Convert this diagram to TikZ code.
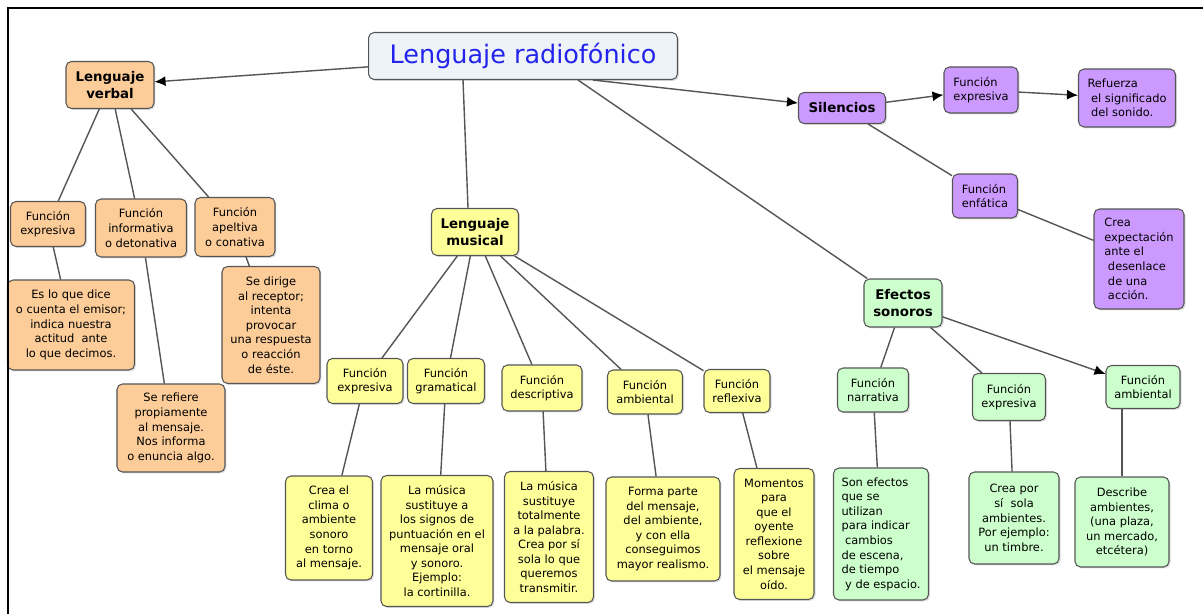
\documentclass[tikz,border=0pt]{standalone}
\usepackage{fontspec}
\setmainfont{DejaVu Sans}
\usetikzlibrary{arrows.meta,shadows}

\definecolor{verbalc}{RGB}{252,204,153}
\definecolor{musicalc}{RGB}{255,255,153}
\definecolor{silencioc}{RGB}{204,153,255}
\definecolor{efectoc}{RGB}{204,255,204}
\definecolor{titlec}{RGB}{238,243,248}
\definecolor{titletext}{RGB}{35,35,235}
\definecolor{edgec}{RGB}{85,85,85}

\tikzset{
  concept/.style={draw=edgec, line width=0.6pt, rounded corners=1.1mm, align=center, inner sep=1pt,
    font=\fontsize{6.5}{8.3}\selectfont,
    drop shadow={opacity=0.25, shadow xshift=0.3mm, shadow yshift=-0.3mm}},
  head/.style={concept, font=\fontsize{7.6}{9.4}\selectfont\bfseries},
  sz/.style 2 args={minimum width=#1*0.2mm, minimum height=#2*0.2mm},
  link/.style={draw=edgec, line width=0.8pt},
  arrowlink/.style={link, -{Latex[length=2.2mm,width=2mm,color=black]}}
}

\begin{document}
\begin{tikzpicture}[x=0.02cm, y=-0.02cm]
  \useasboundingbox (0,0) rectangle (1203,614);

  % title
  \node [concept, sz={309}{47}, fill=titlec, text=titletext, font=\fontsize{14.5}{17}\selectfont] (T) at (523,56) {Lenguaje radiofónico};

  % lenguaje verbal
  \node [head, sz={88}{47}, fill=verbalc] (LV) at (110,85) {Lenguaje\\verbal};
  \node [concept, sz={75}{45}, fill=verbalc] (LV1) at (48,224) {Función\\expresiva};
  \node [concept, sz={91}{58}, fill=verbalc] (LV2) at (141,228) {Función\\informativa\\o detonativa};
  \node [concept, sz={80}{59}, fill=verbalc] (LV3) at (235,227) {Función\\apeltiva\\o conativa};
  \node [concept, sz={127}{90}, fill=verbalc] (LV1a) at (71,325) {Es lo que dice\\o cuenta el emisor;\\indica nuestra\\actitud\ \ ante\\lo que decimos.};
  \node [concept, sz={108}{88}, fill=verbalc] (LV2a) at (171,428) {Se refiere\\propiamente\\al mensaje.\\Nos informa\\o enuncia algo.};
  \node [concept, sz={98}{117}, fill=verbalc] (LV3a) at (271,325) {Se dirige\\al receptor;\\intenta\\provocar\\una respuesta\\o reacción\\de éste.};

  % lenguaje musical
  \node [head, sz={87}{47}, fill=musicalc] (LM) at (475,232) {Lenguaje\\musical};
  \node [concept, sz={76}{45}, fill=musicalc] (ME) at (365,381) {Función\\expresiva};
  \node [concept, sz={77}{45}, fill=musicalc] (MG) at (446,381) {Función\\gramatical};
  \node [concept, sz={80}{46}, fill=musicalc] (MD) at (542,388) {Función\\descriptiva};
  \node [concept, sz={75}{44}, fill=musicalc] (MA) at (645,392) {Función\\ambiental};
  \node [concept, sz={66}{43}, fill=musicalc] (MR) at (737,391) {Función\\reflexiva};
  \node [concept, sz={87}{104}, fill=musicalc] (ME1) at (329,528) {Crea el\\clima o\\ambiente\\sonoro\\en torno\\al mensaje.};
  \node [concept, sz={112}{131}, fill=musicalc] (MG1) at (437,541) {La música\\sustituye a\\los signos de\\puntuación en el\\mensaje oral\\y sonoro.\\Ejemplo:\\la cortinilla.};
  \node [concept, sz={89}{131}, fill=musicalc] (MD1) at (549,537) {La música\\sustituye\\totalmente\\a la palabra.\\Crea por sí\\sola lo que\\queremos\\transmitir.};
  \node [concept, sz={114}{104}, fill=musicalc] (MA1) at (663,529) {Forma parte\\del mensaje,\\del ambiente,\\y con ella\\conseguimos\\mayor realismo.};
  \node [concept, sz={80}{131}, fill=musicalc] (MR1) at (774,534) {Momentos\\para\\que el\\oyente\\reflexione\\sobre\\el mensaje\\oído.};

  % silencios
  \node [head, sz={87}{31}, fill=silencioc] (S) at (842,108) {Silencios};
  \node [concept, sz={74}{46}, fill=silencioc, align=left] (SE) at (981,90) {Función\\expresiva};
  \node [concept, sz={97}{58}, fill=silencioc, align=left] (SE1) at (1127,98) {Refuerza\\\ el significado\\\ del sonido.};
  \node [concept, sz={65}{44}, fill=silencioc, align=left] (SF) at (985,196) {Función\\enfática};
  \node [concept, sz={90}{100}, fill=silencioc, align=left] (SF1) at (1139,259) {Crea\\expectación\\ante el\\\ desenlace\\\ de una\\\ acción.};

  % efectos sonoros
  \node [head, sz={78}{48}, fill=efectoc] (ES) at (903,303) {Efectos\\sonoros};
  \node [concept, sz={71}{44}, fill=efectoc] (EN) at (873,390) {Función\\narrativa};
  \node [concept, sz={73}{47}, fill=efectoc] (EE) at (1009,397) {Función\\expresiva};
  \node [concept, sz={74}{43}, fill=efectoc] (EA) at (1143,387) {Función\\ambiental};
  \node [concept, sz={95}{132}, fill=efectoc, align=left] (EN1) at (881,534) {Son efectos\\que se\\utilizan\\para indicar\\\ cambios\\de escena,\\de tiempo\\\ y de espacio.};
  \node [concept, sz={90}{92}, fill=efectoc] (EE1) at (1014,518) {Crea por\\sí\ \ sola\\ambientes.\\Por ejemplo:\\un timbre.};
  \node [concept, sz={94}{90}, fill=efectoc] (EA1) at (1122,522) {Describe\\ambientes,\\(una plaza,\\un mercado,\\etcétera)};

  % connectors
  \draw [arrowlink] (T) -- (LV);
  \draw [link] ([xshift=-1.2cm]T.south) -- ([xshift=-0.14cm]LM.north);
  \draw [arrowlink] ([xshift=1.4cm]T.south) -- (S);
  \draw [link] ([xshift=1.1cm]T.south) -- (ES);

  \draw [link] (LV) -- (LV1);
  \draw [link] (LV) -- (LV2);
  \draw [link] (LV) -- (LV3);
  \draw [link] (LV1) -- (LV1a);
  \draw [link] (LV2) -- (LV2a);
  \draw [link] (LV3) -- (LV3a);

  \foreach \f in {ME,MG,MD,MA,MR}
    \draw [link] (LM) -- (\f);
  \foreach \f in {ME,MG,MD,MA,MR}
    \draw [link] (\f) -- (\f1);

  \draw [arrowlink] (S) -- (SE);
  \draw [arrowlink] (SE) -- (SE1);
  \draw [link] (S) -- (SF);
  \draw [link] (SF) -- (SF1);

  \draw [link] (ES) -- (EN);
  \draw [link] (ES) -- (EE);
  \draw [arrowlink] (ES) -- (EA);
  \draw [link] (EN) -- (EN1);
  \draw [link] (EE) -- (EE1);
  \draw [link] (EA.south -| EA1) -- (EA1);

  % frame
  \draw [line width=1.6pt] (8,614) -- (8,8) -- (1203,8);
\end{tikzpicture}
\end{document}
